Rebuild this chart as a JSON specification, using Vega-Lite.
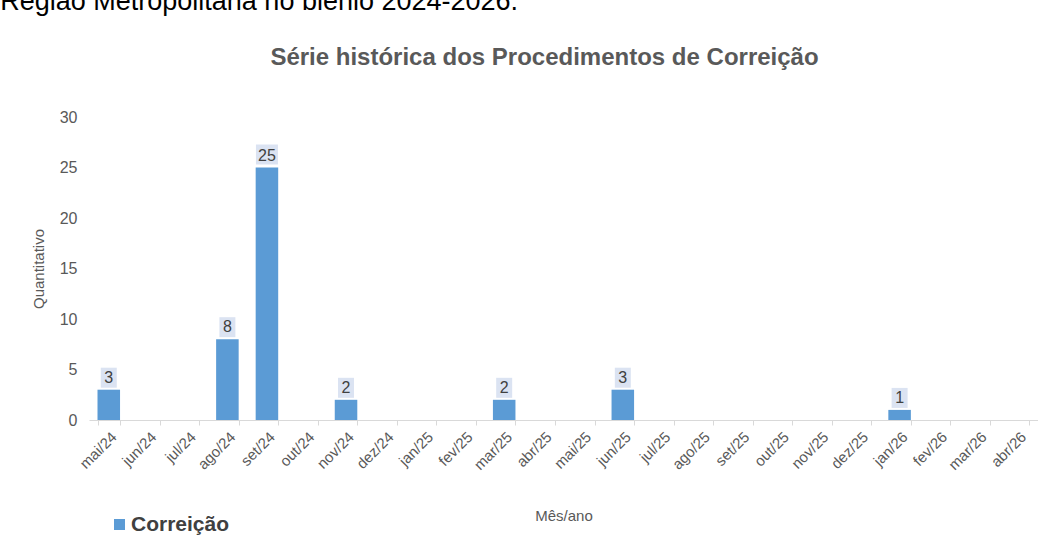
{
  "$schema": "https://vega.github.io/schema/vega-lite/v6.json",
  "background": "white",
  "padding": {"left": 0, "top": -12, "right": 0, "bottom": 0},
  "title": {"text": "Região Metropolitana no biênio 2024-2026.", "anchor": "start", "frame": "bounds", "fontSize": 27, "font": "Liberation Sans", "fontWeight": "normal", "color": "#000000", "offset": 30, "dx": -31},
  "datasets": {
    "d": [
      {"mes": "mai/24", "v": 3, "serie": "Correição"},
      {"mes": "jun/24", "v": 0, "serie": "Correição"},
      {"mes": "jul/24", "v": 0, "serie": "Correição"},
      {"mes": "ago/24", "v": 8, "serie": "Correição"},
      {"mes": "set/24", "v": 25, "serie": "Correição"},
      {"mes": "out/24", "v": 0, "serie": "Correição"},
      {"mes": "nov/24", "v": 2, "serie": "Correição"},
      {"mes": "dez/24", "v": 0, "serie": "Correição"},
      {"mes": "jan/25", "v": 0, "serie": "Correição"},
      {"mes": "fev/25", "v": 0, "serie": "Correição"},
      {"mes": "mar/25", "v": 2, "serie": "Correição"},
      {"mes": "abr/25", "v": 0, "serie": "Correição"},
      {"mes": "mai/25", "v": 0, "serie": "Correição"},
      {"mes": "jun/25", "v": 3, "serie": "Correição"},
      {"mes": "jul/25", "v": 0, "serie": "Correição"},
      {"mes": "ago/25", "v": 0, "serie": "Correição"},
      {"mes": "set/25", "v": 0, "serie": "Correição"},
      {"mes": "out/25", "v": 0, "serie": "Correição"},
      {"mes": "nov/25", "v": 0, "serie": "Correição"},
      {"mes": "dez/25", "v": 0, "serie": "Correição"},
      {"mes": "jan/26", "v": 1, "serie": "Correição"},
      {"mes": "fev/26", "v": 0, "serie": "Correição"},
      {"mes": "mar/26", "v": 0, "serie": "Correição"},
      {"mes": "abr/26", "v": 0, "serie": "Correição"}
    ]
  },
  "vconcat": [
    {
      "width": 949,
      "height": 303,
      "title": {"text": "Série histórica dos Procedimentos de Correição", "fontSize": 24, "fontWeight": "bold", "color": "#595959", "font": "Liberation Sans", "offset": 39, "anchor": "middle", "dx": -19},
      "data": {"name": "d"},
      "encoding": {
        "x": {"field": "mes", "type": "nominal", "sort": null,
          "scale": {"paddingInner": 0.43, "paddingOuter": 0.215},
          "axis": {"title": "Mês/ano", "labelAngle": -45, "tickBand": "extent"}},
        "y": {"field": "v", "type": "quantitative", "scale": {"domain": [0, 30]},
          "axis": {"title": "Quantitativo", "values": [0, 5, 10, 15, 20, 25, 30]}}
      },
      "layer": [
        {
          "mark": {"type": "bar"},
          "encoding": {
            "color": {"field": "serie", "type": "nominal", "scale": {"range": ["#5b9bd5"]},
              "legend": {"title": null, "orient": "none", "legendX": 20, "legendY": 397, "symbolType": "square", "symbolSize": 121, "labelFontSize": 21, "labelFontWeight": "bold", "labelColor": "#404040", "labelFont": "Liberation Sans", "symbolStrokeWidth": 0, "labelOffset": 1}}
          }
        },
        {
          "transform": [{"filter": "datum.v > 0"}],
          "mark": {"type": "point", "filled": true, "opacity": 1, "color": "#dbe3f2", "strokeWidth": 0},
          "encoding": {
            "shape": {"condition": {"test": "datum.v >= 10", "value": "M-11,-23H11V-3H-11Z"}, "value": "M-8,-22H8V-2H-8Z"},
            "size": {"value": 4}
          }
        },
        {
          "transform": [{"filter": "datum.v > 0"}],
          "mark": {"type": "text", "dy": -12, "baseline": "middle", "fontSize": 16, "color": "#404040", "font": "Liberation Sans"},
          "encoding": {"text": {"field": "v", "type": "quantitative"}}
        }
      ]
    }
  ],
  "config": {
    "font": "Liberation Sans",
    "view": {"stroke": null},
    "axisX": {"labelFontSize": 15, "labelColor": "#595959", "domainColor": "#d9d9d9", "tickColor": "#d9d9d9", "tickSize": 5, "grid": false, "titleFontSize": 15, "titleColor": "#595959", "titleFontWeight": "normal", "titlePadding": 36, "labelPadding": 4},
    "axisY": {"domain": false, "ticks": false, "grid": false, "labelFontSize": 16, "labelColor": "#595959", "labelPadding": 12, "titleFontSize": 15, "titleColor": "#595959", "titleFontWeight": "normal", "titlePadding": 13}
  }
}
